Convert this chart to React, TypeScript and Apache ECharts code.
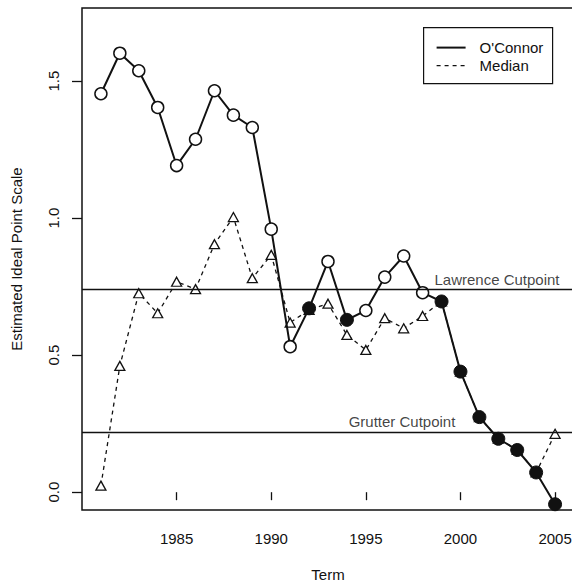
import React, { useEffect, useRef } from "react";
import * as echarts from "echarts";

const years = [1981, 1982, 1983, 1984, 1985, 1986, 1987, 1988, 1989, 1990, 1991, 1992, 1993, 1994, 1995, 1996, 1997, 1998, 1999, 2000, 2001, 2002, 2003, 2004, 2005];
const oconnor = [1.454, 1.602, 1.538, 1.404, 1.192, 1.288, 1.465, 1.376, 1.331, 0.96, 0.531, 0.671, 0.842, 0.629, 0.663, 0.785, 0.862, 0.728, 0.696, 0.44, 0.274, 0.195, 0.154, 0.072, -0.044];
const oconnorFilled = [0, 0, 0, 0, 0, 0, 0, 0, 0, 0, 0, 1, 0, 1, 0, 0, 0, 0, 1, 1, 1, 1, 1, 1, 1];
const median = [0.024, 0.461, 0.726, 0.653, 0.768, 0.741, 0.905, 1.004, 0.781, 0.866, 0.619, 0.665, 0.688, 0.574, 0.519, 0.635, 0.598, 0.643, 0.696, 0.44, 0.274, 0.195, 0.154, 0.072, 0.213];
const cutpointNames = ["Lawrence Cutpoint", "Grutter Cutpoint"];
const cutpointValues = [0.738, 0.219];
const cutpointLabelPos = [[2001.93, 0.775], [1996.91, 0.258]];
const xTicks = [1985, 1990, 1995, 2000, 2005];
const yTicks = [0, 0.5, 1, 1.5];

const INK = "#111";
const FONT = "'Liberation Sans', Arial, Helvetica, sans-serif";

export default function App() {
  const ref = useRef<HTMLDivElement>(null);
  useEffect(() => {
    if (!ref.current) return;
    const chart = echarts.init(ref.current, undefined, { renderer: "svg" });
    const option: any = {
      animation: false,
      backgroundColor: "#fff",
      textStyle: { fontFamily: FONT, color: INK },
      grid: {
        left: 82,
        top: 8,
        width: 492,
        height: 502,
        show: true,
        borderColor: INK,
        borderWidth: 1.5,
        backgroundColor: "transparent",
        containLabel: false,
        outerBoundsMode: "none",
      },
      xAxis: {
        type: "value",
        min: 1980,
        max: 2006,
        name: "Term",
        nameLocation: "middle",
        nameGap: 57,
        nameTextStyle: { fontSize: 15, color: INK, fontFamily: FONT },
        axisLine: { show: false },
        splitLine: { show: false },
        axisTick: { show: true, inside: false, length: 8, customValues: xTicks, lineStyle: { color: INK, width: 1.3 } },
        axisLabel: { show: true, margin: 21, fontSize: 15, color: INK, fontFamily: FONT, customValues: xTicks, formatter: (v: number) => String(v) },
      },
      yAxis: {
        type: "value",
        min: -0.065,
        max: 1.767,
        name: "Estimated Ideal Point Scale",
        nameLocation: "middle",
        nameGap: 58,
        nameRotate: 90,
        nameTextStyle: { fontSize: 15, color: INK, fontFamily: FONT },
        axisLine: { show: false },
        splitLine: { show: false },
        axisTick: { show: true, inside: false, length: 10, customValues: yTicks, lineStyle: { color: INK, width: 1.3 } },
        axisLabel: { show: true, margin: 21, rotate: 90, fontSize: 15, color: INK, fontFamily: FONT, customValues: yTicks, formatter: (v: number) => v.toFixed(1) },
      },
      series: [
        {
          type: "scatter",
          name: "cutpoints",
          z: 1,
          symbolSize: 0,
          data: cutpointNames.map((n, i) => ({ name: n, value: cutpointLabelPos[i] })),
          label: { show: true, position: "inside", formatter: "{b}", fontSize: 15, color: INK, fontFamily: FONT },
          markLine: {
            silent: true,
            symbol: ["none", "none"],
            label: { show: false },
            lineStyle: { color: INK, width: 1.4, type: "solid" },
            data: cutpointValues.map((v) => ({ yAxis: v })),
          },
        },
        {
          type: "line",
          name: "Median",
          z: 2,
          showAllSymbol: true,
          symbol: "triangle",
          symbolSize: [10, 9],
          data: years.map((y, i) => [y, median[i]]),
          lineStyle: { color: INK, width: 1.3, type: [4, 4] },
          itemStyle: { color: "#fff", borderColor: INK, borderWidth: 1.3 },
        },
        {
          type: "line",
          name: "O'Connor",
          z: 3,
          showAllSymbol: true,
          symbol: "circle",
          data: years.map((y, i) =>
            oconnorFilled[i]
              ? { value: [y, oconnor[i]], symbolSize: 13, itemStyle: { color: INK, borderColor: INK, borderWidth: 1 } }
              : { value: [y, oconnor[i]], symbolSize: 12, itemStyle: { color: "#fff", borderColor: INK, borderWidth: 1.5 } }
          ),
          lineStyle: { color: INK, width: 2 },
          itemStyle: { color: "#fff", borderColor: INK, borderWidth: 1.5 },
        },
      ],
      graphic: [
        {
          type: "group",
          left: 423,
          top: 27,
          children: [
            { type: "rect", shape: { x: 0, y: 0, width: 129, height: 56 }, style: { fill: "#fff", stroke: INK, lineWidth: 1.2 } },
            { type: "line", shape: { x1: 13, y1: 20, x2: 42, y2: 20 }, style: { stroke: INK, lineWidth: 2 } },
            { type: "line", shape: { x1: 13, y1: 38, x2: 42, y2: 38 }, style: { stroke: INK, lineWidth: 1.3, lineDash: [4, 4] } },
            { type: "text", x: 56, y: 20, style: { text: "O'Connor", fill: INK, fontSize: 15, fontFamily: FONT, verticalAlign: "middle", align: "left" } },
            { type: "text", x: 56, y: 38, style: { text: "Median", fill: INK, fontSize: 15, fontFamily: FONT, verticalAlign: "middle", align: "left" } },
          ],
        },
      ],
    };
    chart.setOption(option);
    return () => chart.dispose();
  }, []);
  return <div ref={ref} style={{ position: "absolute", left: 0, top: 0, width: 572, height: 585 }} />;
}
